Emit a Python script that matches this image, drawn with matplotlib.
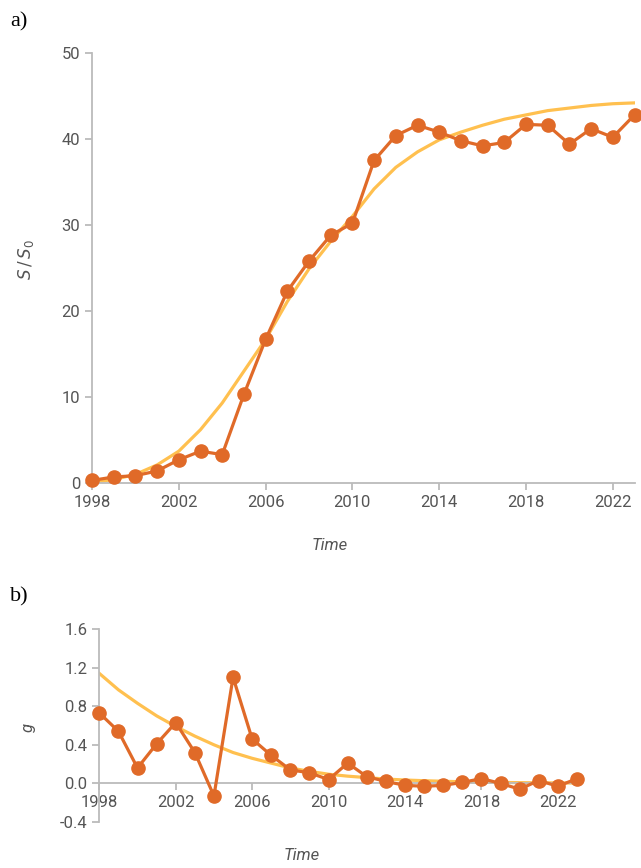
import numpy as np
import matplotlib
matplotlib.use("Agg")
import matplotlib.pyplot as plt

# years shown in both panels
years = np.arange(1998, 2024)

s_ratio = [0.3, 0.7, 0.85, 1.4, 2.7, 3.7, 3.3, 10.3, 16.7, 22.3, 25.8, 28.8, 30.2,
           37.5, 40.4, 41.6, 40.8, 39.8, 39.2, 39.6, 41.7, 41.6, 39.4, 41.2, 40.2, 42.8]
s_fit = [0.1, 0.4, 1.0, 2.1, 3.7, 6.2, 9.3, 13.0, 16.7, 21.1, 24.9, 28.1, 31.0,
         34.2, 36.7, 38.5, 39.9, 40.8, 41.6, 42.3, 42.8, 43.3, 43.6, 43.9, 44.1, 44.2]

# panel b: growth rate g and fitted decay
g_vals = [0.73, 0.54, 0.16, 0.41, 0.63, 0.32, -0.13, 1.10, 0.46, 0.29, 0.14, 0.11, 0.04,
          0.21, 0.07, 0.02, -0.02, -0.03, -0.02, 0.01, 0.05, 0.0, -0.06, 0.03, -0.03, 0.05]
g_fit = [1.14, 0.97, 0.83, 0.70, 0.59, 0.49, 0.40, 0.32, 0.26, 0.21, 0.16, 0.125, 0.095,
         0.075, 0.06, 0.045, 0.035, 0.028, 0.022, 0.017, 0.013, 0.010, 0.008, 0.006, 0.005, 0.004]

xticks = [1998, 2002, 2006, 2010, 2014, 2018, 2022]

orange = "#E06A28"
yellow = "#FFC04F"
axcol = "#BBBBBB"
txtcol = "#555555"

plt.rcParams['font.family'] = ['Roboto', 'DejaVu Sans']

W, H = 641, 868
fig = plt.figure(figsize=(W / 100, H / 100), dpi=100)

def style(ax):
    for s in ["top", "right"]:
        ax.spines[s].set_visible(False)
    for s in ["left", "bottom"]:
        ax.spines[s].set_color(axcol)
        ax.spines[s].set_linewidth(1.3)
    ax.tick_params(colors=axcol, labelcolor=txtcol, labelsize=12, length=5, width=1.3)
    ax.set_xticks(xticks)
    ax.set_xlim(1998, 2023)

# ---- panel a
ax1 = fig.add_axes([92 / W, 1 - 483 / H, 542.5 / W, 430 / H])
style(ax1)
ax1.plot(years, s_fit, color=yellow, lw=2.3, zorder=2)
ax1.plot(years, s_ratio, color=orange, lw=2.3, marker="o", ms=9.5, clip_on=False, zorder=3)
ax1.set_ylim(0, 50)
ax1.set_yticks([0, 10, 20, 30, 40, 50])
ax1.set_xlabel("Time", style="italic", color=txtcol, fontsize=12, va="center")
ax1.xaxis.set_label_coords((330 - 92) / 542.5, -(546 - 483) / 430)
ax1.set_ylabel(r"$S\,/\,S_0$", color=txtcol, fontsize=12, va="center")
ax1.yaxis.set_label_coords(-(92 - 26) / 542.5, (483 - 260) / 430)
fig.text(10 / W, 1 - 22 / H, "a)", family="Liberation Serif", fontsize=16, va="center")

# ---- panel b
ax2 = fig.add_axes([99.3 / W, 1 - 822 / H, 477.7 / W, 193 / H])
style(ax2)
ax2.spines["bottom"].set_position(("data", 0))
ax2.plot(years, g_fit, color=yellow, lw=2.3, zorder=2)
ax2.plot(years, g_vals, color=orange, lw=2.3, marker="o", ms=9.5, clip_on=False, zorder=3)
ax2.set_ylim(-0.4, 1.6)
ax2.set_yticks([-0.4, 0.0, 0.4, 0.8, 1.2, 1.6])
ax2.set_yticklabels(["-0.4", "0.0", "0.4", "0.8", "1.2", "1.6"])
ax2.set_xlabel("Time", style="italic", color=txtcol, fontsize=12, va="center")
ax2.xaxis.set_label_coords((302 - 99.3) / 477.7, -(856 - 822) / 193)
ax2.set_ylabel("g", style="italic", color=txtcol, fontsize=12, va="center")
ax2.yaxis.set_label_coords(-(99.3 - 28) / 477.7, (822 - 727) / 193)
fig.text(10 / W, 1 - 597 / H, "b)", family="Liberation Serif", fontsize=16, va="center")

fig.savefig("out.png", dpi=100)
